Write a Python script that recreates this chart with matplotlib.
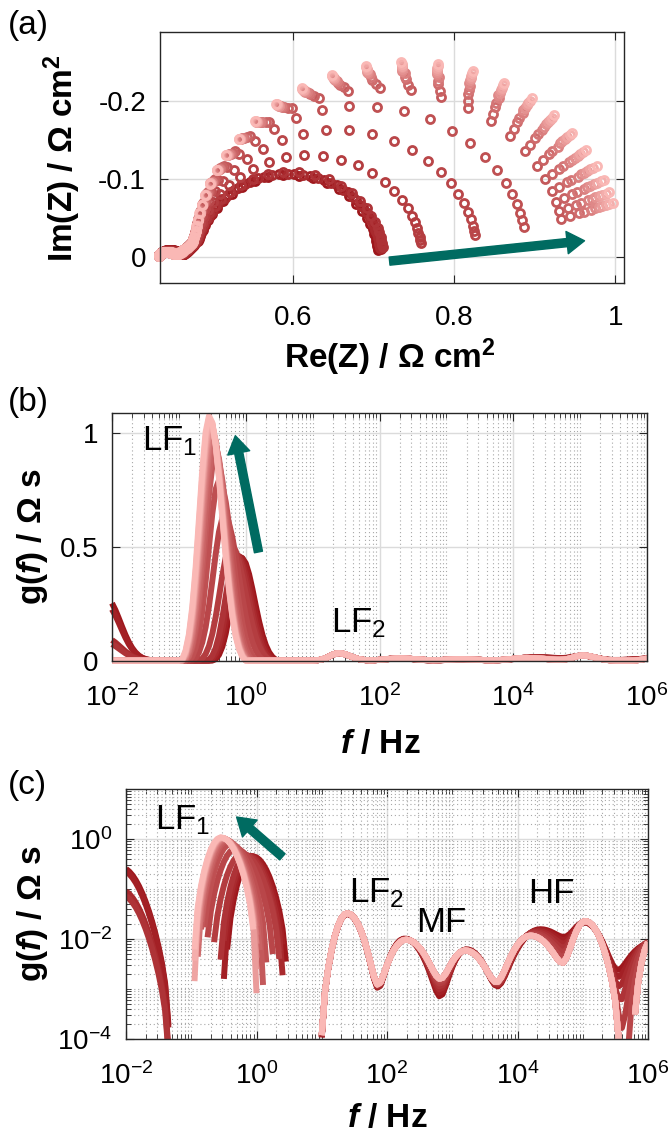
import numpy as np
import matplotlib
matplotlib.use('Agg')
import matplotlib.pyplot as plt
from matplotlib.ticker import FixedLocator, LogLocator, LogFormatterMathtext, FuncFormatter, NullFormatter

plt.rcParams['font.family'] = ['Liberation Sans', 'DejaVu Sans']
plt.rcParams['mathtext.fontset'] = 'custom'
plt.rcParams['mathtext.rm'] = 'Liberation Sans'
plt.rcParams['mathtext.it'] = 'Liberation Sans:italic'
plt.rcParams['mathtext.bf'] = 'Liberation Sans:bold'
plt.rcParams['mathtext.bfit'] = 'Liberation Sans:italic:bold'
plt.rcParams['axes.unicode_minus'] = False

# ---- DRT peak parameters (b)/(c), one entry per spectrum (early -> late)
lf1_height = [0.46, 0.47, 0.47, 0.48, 0.52, 0.65, 0.81, 0.92, 0.97, 1.00,
              1.02, 1.04, 1.05, 1.06, 1.07, 1.08, 1.09, 1.10]
lf1_logf = [-0.06, -0.09, -0.12, -0.15, -0.22, -0.32, -0.40, -0.45, -0.47, -0.49,
            -0.50, -0.51, -0.52, -0.525, -0.53, -0.535, -0.54, -0.545]
lf1_width = [0.17, 0.17, 0.17, 0.17, 0.19, 0.19, 0.18, 0.177, 0.172, 0.171,
             0.17, 0.17, 0.17, 0.17, 0.17, 0.17, 0.17, 0.17]
lf0_height = [0.28, 0.25, 0.10, 0.08] + [0.0] * 14   # tail below 10 mHz
lf0_logf, lf0_width = -2.1, 0.2

# smaller peaks (LF2, MF, MF, HF, HF, HF edge): (log f, height, width)
band_early = [(1.39, 0.032, 0.15), (2.27, 0.0105, 0.20), (3.22, 0.0065, 0.20),
              (4.35, 0.016, 0.30), (5.04, 0.020, 0.18), (6.00, 0.008, 0.30)]
band_late = [(1.39, 0.033, 0.15), (2.29, 0.0100, 0.22), (3.20, 0.0062, 0.22),
             (4.20, 0.012, 0.25), (5.04, 0.023, 0.16), (6.05, 0.010, 0.12)]
band_floor = 3e-4

r_ohmic = 0.433        # high-frequency intercept in (a)
res_scale = 1.19       # Ohm cm2 per unit DRT area (log10 f)
n_spec = len(lf1_height)

dark = np.array([0.62, 0.09, 0.11])
light = np.array([0.98, 0.72, 0.71])
teal = '#006b61'

# ---- build the DRT curves and the impedance spectra
xg = np.arange(-2, 6.0001, 0.05)
fg = 10 ** xg
f_meas = 10 ** (np.arange(72, -18, -1) / 12.0)


def peak(x, a, c, s):
    sig = np.where(x < c, 0.88 * s, 1.12 * s)
    return a * np.exp(-0.5 * ((x - c) / sig) ** 2)


drt, drt_z = [], []
for i in range(n_spec):
    u = min(1.0, i / 6.0)
    band = np.zeros_like(xg)
    for e, l in zip(band_early, band_late):
        c, a, s = [(1 - u) * p + u * q for p, q in zip(e, l)]
        band += peak(xg, a, c, s)
    band = np.clip(band - band_floor, 0, None)
    lf1 = np.clip(peak(xg, lf1_height[i], lf1_logf[i], lf1_width[i]) - 0.02 * lf1_height[i], 0, None)
    lf0 = np.zeros_like(xg)
    if lf0_height[i] > 0:
        lf0 = np.clip(peak(xg, lf0_height[i], lf0_logf, lf0_width) - 0.003 * lf0_height[i], 0, None)
    drt.append(lf0 + lf1 + band)
    drt_z.append(lf1 + band)

nyq = []
for g in drt_z:
    kern = 1.0 / (1 + 1j * f_meas[:, None] / fg[None, :])
    z = r_ohmic + res_scale * (kern * g[None, :]).sum(axis=1) * 0.05
    nyq.append(z)

cols = [dark + (light - dark) * i / (n_spec - 1) for i in range(n_spec)]

W, H = 671, 1140
fig = plt.figure(figsize=(W / 100, H / 100), dpi=100)


def box(l, t, r, b):
    return [l / W, 1 - b / H, (r - l) / W, (b - t) / H]


def style(ax, pad_x, pad_y):
    ax.tick_params(which='both', direction='in', top=True, right=True,
                   labelsize=20, colors='0.15', labelcolor='black')
    ax.tick_params(which='major', length=6, width=0.8)
    ax.tick_params(which='minor', length=3.5, width=0.6)
    ax.tick_params(axis='x', pad=pad_x)
    ax.tick_params(axis='y', pad=pad_y)
    for sp in ax.spines.values():
        sp.set_color('0.15')
        sp.set_linewidth(1.0)
    ax.set_axisbelow(True)


arrow_kw = dict(arrowstyle='simple,head_length=0.9,head_width=1.15,tail_width=0.42',
                color=teal, mutation_scale=14, shrinkA=0, shrinkB=0)

# ---- (a) Nyquist
ax1 = fig.add_axes(box(160, 32, 624, 283))
for i, z in enumerate(nyq):
    ax1.plot(z.real, z.imag, 'o', mfc='none', mec=cols[i], ms=5.8, mew=2.0, clip_on=False)
ax1.set_xlim(0.435, 1.011)
ax1.set_ylim(0.033, -0.288)
ax1.xaxis.set_major_locator(FixedLocator([0.6, 0.8, 1.0]))
ax1.yaxis.set_major_locator(FixedLocator([-0.2, -0.1, 0.0]))
fmt = FuncFormatter(lambda v, p: '%g' % round(v, 3))
ax1.xaxis.set_major_formatter(fmt)
ax1.yaxis.set_major_formatter(fmt)
ax1.grid(True, color='0.86', lw=1.0)
style(ax1, 16, 10)
ax1.annotate('', xy=(0.962, -0.021), xytext=(0.72, 0.005), arrowprops=arrow_kw)


def log_x(ax):
    ax.set_xscale('log')
    ax.set_xlim(1e-2, 1e6)
    ax.xaxis.set_major_locator(FixedLocator([1e-2, 1e0, 1e2, 1e4, 1e6]))
    ax.xaxis.set_major_formatter(LogFormatterMathtext())
    ax.xaxis.set_minor_locator(LogLocator(base=10, subs=np.arange(1, 10), numticks=100))
    ax.xaxis.set_minor_formatter(NullFormatter())


# ---- (b) DRT linear
ax2 = fig.add_axes(box(112, 413, 647, 661))
for i, g in enumerate(drt):
    ax2.plot(fg, g, color=cols[i], lw=4.3, solid_capstyle='butt', clip_on=False)
log_x(ax2)
ax2.set_ylim(-0.002, 1.09)
ax2.yaxis.set_major_locator(FixedLocator([0, 0.5, 1]))
ax2.yaxis.set_major_formatter(fmt)
ax2.yaxis.grid(True, which='major', color='0.86', lw=1.0)
ax2.xaxis.grid(True, which='major', color='0.86', lw=1.0)
ax2.xaxis.grid(True, which='minor', color='0.66', lw=0.8, ls=(0, (1, 2.5)))
style(ax2, 17, 10)
ax2.text(10 ** -1.55, 0.925, r'$\mathregular{LF_1}$', fontsize=25, va='baseline')
ax2.text(10 ** 1.27, 0.123, r'$\mathregular{LF_2}$', fontsize=25, va='baseline')
ax2.annotate('', xy=(10 ** -0.156, 0.99), xytext=(10 ** 0.19, 0.478), arrowprops=arrow_kw)

# ---- (c) DRT log
ax3 = fig.add_axes(box(126, 789, 648, 1039))
for i, g in enumerate(drt):
    ax3.plot(fg, np.where(g > 0, g, np.nan), color=cols[i], lw=4.3, solid_capstyle='butt')
log_x(ax3)
ax3.set_yscale('log')
ax3.set_ylim(1e-4, 1e1)
ax3.yaxis.set_major_locator(FixedLocator([1e-4, 1e-2, 1e0]))
ax3.yaxis.set_major_formatter(LogFormatterMathtext())
ax3.yaxis.set_minor_locator(LogLocator(base=10, subs=np.arange(1, 10), numticks=100))
ax3.yaxis.set_minor_formatter(NullFormatter())
ax3.grid(True, which='major', color='0.86', lw=1.0)
ax3.grid(True, which='minor', color='0.66', lw=0.8, ls=(0, (1, 2.5)))
style(ax3, 17, 10)
ax3.text(10 ** -1.56, 1.58, r'$\mathregular{LF_1}$', fontsize=25, va='baseline')
ax3.text(10 ** 1.42, 0.055, r'$\mathregular{LF_2}$', fontsize=25, va='baseline')
ax3.text(10 ** 2.44, 0.0138, 'MF', fontsize=25, va='baseline')
ax3.text(10 ** 4.17, 0.052, 'HF', fontsize=25, va='baseline')
ax3.annotate('', xy=(10 ** -0.305, 2.75), xytext=(10 ** 0.397, 0.44), arrowprops=arrow_kw)

# ---- labels
lab_re = r'$\mathbf{Re(Z)\ /\ \Omega\ cm^2}$'
lab_im = r'$\mathbf{Im(Z)\ /\ \Omega\ cm^2}$'
lab_g = r'$\mathbf{g(}\mathbfit{f}\mathbf{)\ /\ \Omega\ s}$'
lab_f = r'$\mathbfit{f}\mathbf{\ /\ Hz}$'


def ftext(x, y, s, **kw):
    fig.text(x / W, 1 - y / H, s, **kw)


ftext(62, 158, lab_im, fontsize=24, rotation=90, ha='center', va='center')
ftext(390, 357, lab_re, fontsize=24, ha='center', va='center')
ftext(32, 537, lab_g, fontsize=24, rotation=90, ha='center', va='center')
ftext(380, 744, lab_f, fontsize=24, ha='center', va='center')
ftext(32, 914, lab_g, fontsize=24, rotation=90, ha='center', va='center')
ftext(387, 1119, lab_f, fontsize=24, ha='center', va='center')
ftext(8, 10, '(a)', fontsize=24, ha='left', va='top')
ftext(8, 387, '(b)', fontsize=24, ha='left', va='top')
ftext(8, 770, '(c)', fontsize=24, ha='left', va='top')

fig.savefig('out.png', dpi=100)
